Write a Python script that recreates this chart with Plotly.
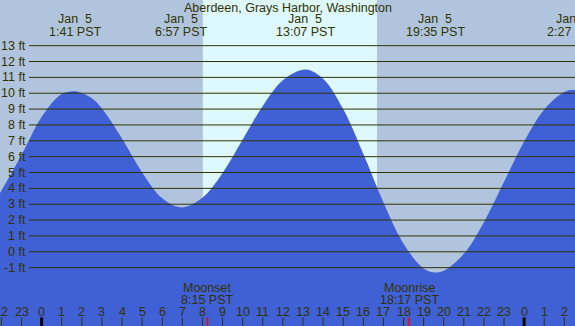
import plotly.graph_objects as go

# ---- data ----
tide_hours = [-2.1, -2, -1, 0, 1, 1.68, 2.5, 3, 4, 5, 6, 6.95, 8, 9, 10, 11, 12, 13.12,
              14, 15, 16, 17, 18, 19, 19.58, 20, 21, 22, 23, 24, 25, 26, 26.45, 26.7]
tide_feet = [3.65, 3.85, 6.1, 8.5, 9.95, 10.12, 9.68, 9.03, 7.14, 5.0, 3.37, 2.8, 3.41, 4.97,
             7.08, 9.2, 10.82, 11.5, 10.92, 9.0, 6.18, 3.12, 0.51, -1.05, -1.3, -1.2,
             -0.13, 1.87, 4.41, 6.95, 8.98, 10.08, 10.2, 10.15]

extreme_hours = [1.683, 6.95, 13.117, 19.583, 26.45]
extreme_labels = ["1:41 PST", "6:57 PST", "13:07 PST", "19:35 PST", "2:27 PST"]
extreme_date = "Jan\u00a0\u00a05"

sunrise_hour = 8.02
sunset_hour = 16.68

moon_hours = [8.25, 18.283]
moon_names = ["Moonset", "Moonrise"]
moon_times = ["8:15 PST", "18:17 PST"]

hour_ticks = list(range(-2, 27))
hour_labels = [str(h % 24) for h in hour_ticks]

feet_levels = list(range(-1, 14))
feet_labels = [f"{v} ft" for v in feet_levels]

title = "Aberdeen, Grays Harbor, Washington"

# ---- styling ----
W, H = 575, 326
NIGHT = "#B0C4DE"
DAY = "#DDF8FF"
WATER = "#4060D6"
INK = "#333300"
FONT = "Liberation Sans"
FS = 12.5

def py(px):
    return 1 - px / H

fig = go.Figure()
fig.add_trace(go.Scatter(x=[-3, 28], y=[-10, -10], mode="lines",
                         line=dict(width=0, color=WATER), hoverinfo="skip", showlegend=False))
fig.add_trace(go.Scatter(x=tide_hours, y=tide_feet, mode="lines", fill="tonexty",
                         fillcolor=WATER, line=dict(width=0, color=WATER, shape="spline", smoothing=1.0),
                         hoverinfo="skip", showlegend=False))

shapes = []
shapes.append(dict(type="rect", xref="x", yref="paper", x0=sunrise_hour, x1=sunset_hour,
                   y0=0, y1=1, fillcolor=DAY, line=dict(width=0), layer="below"))
for v in feet_levels:
    shapes.append(dict(type="line", xref="paper", yref="y", x0=29 / W, x1=1, y0=v, y1=v,
                       line=dict(color=INK, width=1), layer="above"))
for h in hour_ticks:
    midnight = (h % 24 == 0)
    shapes.append(dict(type="line", xref="x", yref="paper", x0=h, x1=h, y0=0, y1=8.5 / H,
                       line=dict(color="#000000" if midnight else INK, width=3 if midnight else 1),
                       layer="above"))
for m in moon_hours:
    shapes.append(dict(type="line", xref="x", yref="paper", x0=m, x1=m, y0=0, y1=8.5 / H,
                       line=dict(color="#FF0000", width=1.5), layer="above"))

ann = []
def txt(x, y, s, xref="x", xanchor="center"):
    ann.append(dict(x=x, y=y, xref=xref, yref="paper", text=s, showarrow=False,
                    xanchor=xanchor, yanchor="middle", font=dict(family=FONT, size=FS, color=INK),
                    borderpad=0))

txt(0.5, py(8), title, xref="paper")
for h, lab in zip(extreme_hours, extreme_labels):
    txt(h, py(19.5), extreme_date)
    txt(h, py(31.5), lab)
for v, lab in zip(feet_levels, feet_labels):
    ann.append(dict(x=27 / W, y=v, xref="paper", yref="y", text=lab, showarrow=False,
                    xanchor="right", yanchor="middle", font=dict(family=FONT, size=FS, color=INK),
                    borderpad=0))
for h, lab in zip(hour_ticks, hour_labels):
    txt(h, py(311.5), lab)
for m, n, t in zip(moon_hours, moon_names, moon_times):
    txt(m, py(288), n)
    txt(m, py(300), t)

fig.update_layout(
    width=W, height=H, margin=dict(l=0, r=0, t=0, b=0),
    paper_bgcolor=NIGHT, plot_bgcolor=NIGHT,
    xaxis=dict(range=[-2.07, 26.53], visible=False, fixedrange=True),
    yaxis=dict(range=[-4.68, 15.88], visible=False, fixedrange=True),
    shapes=shapes, annotations=ann, showlegend=False,
)
fig.write_html("out.html", config={"displayModeBar": False},
               post_script="document.body.style.margin='0';document.body.style.overflow='hidden';")
